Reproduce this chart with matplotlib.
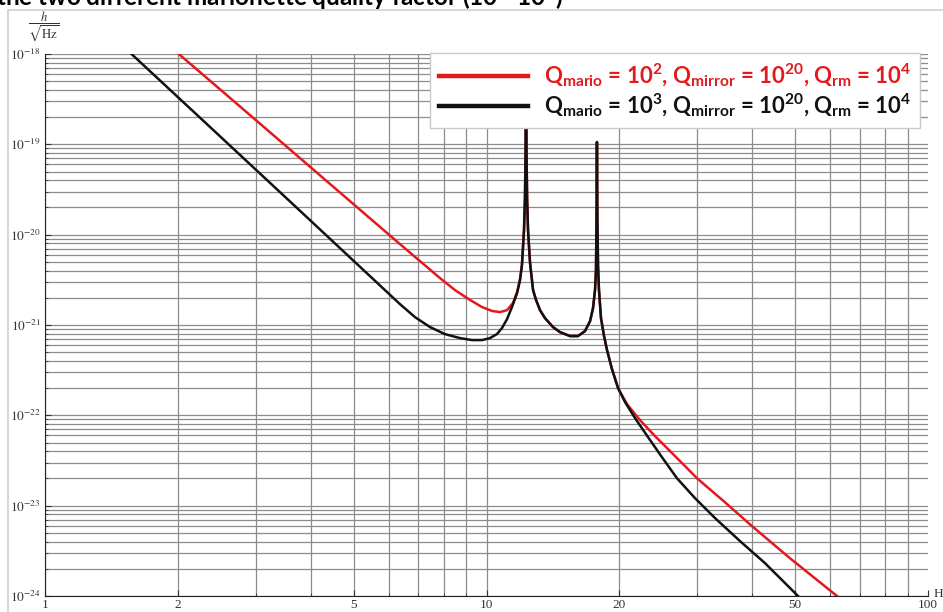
import math
import matplotlib
matplotlib.use("Agg")
import matplotlib.pyplot as plt
from matplotlib.font_manager import FontProperties
from matplotlib.patches import Rectangle
from matplotlib.ticker import FixedLocator, NullFormatter, FuncFormatter, LogLocator

# values (frequency in Hz, strain amplitude in 1/sqrt(Hz))
# low frequency branch, one per curve
red_low_freq = [2.01, 3.07, 4.66, 6.37, 7.85, 8.49, 9.18, 9.77, 10.29, 10.73, 11.13, 11.48, 11.73, 11.91]
red_low_amp = [1.0e-18, 1.69e-19, 2.92e-20, 7.85e-21, 3.30e-21, 2.43e-21, 1.89e-21, 1.58e-21, 1.43e-21,
               1.39e-21, 1.46e-21, 1.75e-21, 2.31e-21, 3.22e-21]
black_low_freq = [1.57, 2.24, 3.78, 6.37, 6.89, 7.45, 8.05, 8.71, 9.27, 9.77, 10.18, 10.56, 10.84, 11.13,
                  11.42, 11.73, 11.91]
black_low_amp = [1.0e-18, 1.99e-19, 1.84e-20, 1.70e-21, 1.22e-21, 9.48e-22, 7.93e-22, 7.16e-22, 6.81e-22,
                 6.81e-22, 7.16e-22, 7.93e-22, 9.25e-22, 1.16e-21, 1.58e-21, 2.26e-21, 3.14e-21]

# the two resonances, where both curves lie on top of each other
peak_freq = [12.03, 12.16, 12.22, 12.26, 12.29, 12.32, 12.36, 12.42, 12.55, 12.75, 12.95, 13.22, 13.57,
             14.15, 14.67, 15.46, 16.11, 16.71, 17.16, 17.43, 17.61, 17.70, 17.75, 17.79, 17.83, 17.89,
             17.98, 18.17, 18.46, 18.75, 19.24, 19.86]
peak_amp = [4.6e-21, 1.12e-20, 2.5e-20, 8e-20, 3e-18, 8e-20, 2.5e-20, 1.1e-20, 4.85e-21, 2.43e-21,
            1.89e-21, 1.46e-21, 1.19e-21, 9.48e-22, 8.34e-22, 7.54e-22, 7.54e-22, 8.55e-22, 1.10e-21,
            1.54e-21, 2.43e-21, 4.06e-21, 1.5e-20, 1.06e-19, 1.5e-20, 4.60e-21, 2.43e-21, 1.19e-21,
            7.54e-22, 5.27e-22, 3.25e-22, 2.00e-22]

# high frequency tails
red_high_freq = [20.81, 22.27, 24.08, 26.04, 28.16, 29.98, 34.69, 39.94, 48.68, 62.2]
red_high_amp = [1.33e-22, 8.85e-23, 5.89e-23, 4.02e-23, 2.74e-23, 2.01e-23, 1.09e-23, 5.93e-24, 2.62e-24, 1.0e-24]
black_high_freq = [20.60, 21.70, 23.22, 24.97, 27.01, 29.67, 32.94, 37.52, 42.74, 50.76]
black_high_amp = [1.40e-22, 9.31e-23, 5.74e-23, 3.44e-23, 2.01e-23, 1.21e-23, 7.28e-24, 4.05e-24, 2.31e-24, 1.0e-24]

red_label = r"Q$_{mario}$ = 10$^{2}$, Q$_{mirror}$ = 10$^{20}$, Q$_{rm}$ = 10$^{4}$"
black_label = r"Q$_{mario}$ = 10$^{3}$, Q$_{mirror}$ = 10$^{20}$, Q$_{rm}$ = 10$^{4}$"
title_text = r"the two different marionette quality factor (10$^{2}$-10$^{3}$)"

x_major = [1, 2, 5, 10, 20, 50, 100]
x_minor = [3, 4, 6, 7, 8, 9, 30, 40, 60, 70, 80, 90]

plt.rcParams["mathtext.fontset"] = "stix"
plt.rcParams["mathtext.rm"] = "Lato:bold"
plt.rcParams["mathtext.it"] = "Lato:bold"
plt.rcParams["mathtext.bf"] = "Lato:bold"

W, H = 943, 612
fig = plt.figure(figsize=(W / 100, H / 100), dpi=100)
ax = fig.add_axes([45 / W, 1 - 596 / H, (928 - 45) / W, (596 - 54) / H])

ax.plot(red_low_freq + peak_freq + red_high_freq, red_low_amp + peak_amp + red_high_amp,
        color="#e3191d", lw=1.8, label=red_label)
ax.plot(black_low_freq + peak_freq + black_high_freq, black_low_amp + peak_amp + black_high_amp,
        color="#111111", lw=1.8, label=black_label)

ax.set_xscale("log")
ax.set_yscale("log")
ax.set_xlim(1, 100)
ax.set_ylim(1e-24, 1e-18)

ax.xaxis.set_major_locator(FixedLocator(x_major))
ax.xaxis.set_minor_locator(FixedLocator(x_minor))
ax.xaxis.set_major_formatter(FuncFormatter(lambda v, p: "%g" % v))
ax.xaxis.set_minor_formatter(NullFormatter())
ax.yaxis.set_major_locator(LogLocator(base=10, numticks=12))
ax.yaxis.set_minor_locator(LogLocator(base=10, subs=range(2, 10), numticks=30))
ax.yaxis.set_major_formatter(FuncFormatter(lambda v, p: r"$10^{%d}$" % round(math.log10(v))))
ax.yaxis.set_minor_formatter(NullFormatter())

ax.grid(True, which="both", color="#8c8c8c", lw=0.9)
ax.set_axisbelow(True)
ax.tick_params(which="both", direction="in", colors="#333333", labelsize=9.5)
ax.tick_params(which="major", length=4)
ax.tick_params(which="minor", length=2.5)
ax.tick_params(axis="x", pad=2)
ax.tick_params(axis="y", pad=3)
for lbl in ax.get_xticklabels():
    lbl.set_family("Liberation Serif")
# no grid line on the right end of the axis
ax.xaxis.get_major_ticks()[-1].gridline.set_visible(False)
for s in ["top", "right"]:
    ax.spines[s].set_visible(False)
for s in ["left", "bottom"]:
    ax.spines[s].set_color("#222222")
    ax.spines[s].set_linewidth(0.8)

# labels around the axes
fig.text(44 / W, 1 - 27 / H, r"$\dfrac{h}{\sqrt{\mathrm{Hz}}}$", fontsize=9, ha="center", va="center",
         color="#333333")
fig.text(934 / W, 1 - 594 / H, "Hz", family="Liberation Serif", fontsize=9.5, va="center", color="#333333")

title_font = FontProperties(family="Lato", weight="bold", size=17.5, math_fontfamily="custom")
fig.text(-4 / W, 1 - 6 / H, title_text, fontproperties=title_font, va="baseline")

# light frame of the original screenshot
fig.patches.append(Rectangle((8 / W, -0.1), 1.2, 1.1 - 10 / H, transform=fig.transFigure,
                             fill=False, ec="#cfcfcf", lw=1.2))

leg_font = FontProperties(family="Lato", weight="bold", size=16, math_fontfamily="custom")
leg = ax.legend(loc="upper right", bbox_to_anchor=(920 / W, 1 - 53 / H), bbox_transform=fig.transFigure,
                prop=leg_font, labelcolor="linecolor", fancybox=False, framealpha=1,
                edgecolor="#c8c8c8", handlelength=4.0, borderaxespad=0, borderpad=0.4,
                labelspacing=0.1, handletextpad=0.7)
for h in leg.legend_handles:
    h.set_linewidth(3.2)

fig.savefig("out.png", dpi=100)
